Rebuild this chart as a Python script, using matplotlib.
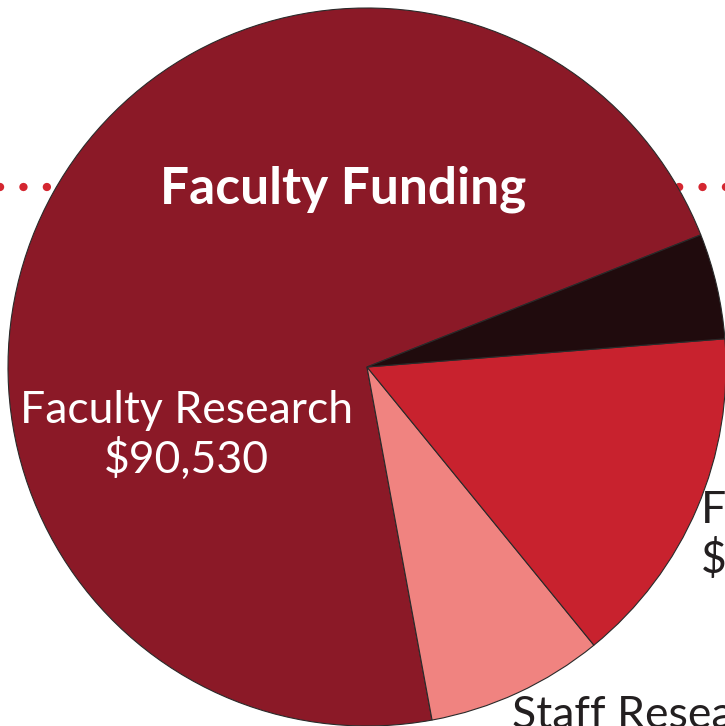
import matplotlib.pyplot as plt

# Slice data
labels = ["Faculty Research", "Staff Research", "Faculty Travel", "Other"]
values = [90530, 10060, 19340, 5980]
colors = ["#8B1927", "#F08380", "#C8222E", "#200B0D"]

W, H = 725, 726
cx, cy, R = 367, 367, 359  # pie centre and radius in pixels

fig = plt.figure(figsize=(W / 100, H / 100), dpi=100)
fig.patch.set_facecolor("white")
ax = fig.add_axes([(cx - R) / W, 1 - (cy + R) / H, 2 * R / W, 2 * R / H])
ax.axis("off")

# dotted rule behind the pie
ax.plot([-cx / R, 1.1], [0.501, 0.501], linestyle=(0, (0.01, 2.8)), linewidth=6,
        dash_capstyle="round", color="#D42630", clip_on=False, zorder=0)

ax.pie(values, colors=colors, startangle=21.6, counterclock=True, radius=1,
       wedgeprops=dict(edgecolor="#2a2a2a", linewidth=0.8))
ax.set_xlim(-1, 1)
ax.set_ylim(-1, 1)

ax.text(-0.067, 0.495, "Faculty Funding", color="white", fontsize=37,
        fontweight="bold", family="Lato", ha="center", va="center")

ax.text(-0.504, -0.19, f"{labels[0]}\n${values[0]:,}", color="white",
        fontsize=32, family="Lato", ha="center", va="center",
        linespacing=1.2)
ax.text(0.93, -0.47, f"{labels[2]}\n${values[2]:,}", color="#231F20",
        fontsize=32, family="Lato", ha="left", va="center",
        linespacing=1.2, clip_on=False)
ax.text(0.405, -0.915, f"{labels[1]}\n${values[1]:,}", color="#231F20",
        fontsize=32, family="Lato", ha="left", va="top",
        linespacing=1.2, clip_on=False)

fig.savefig("out.png", dpi=100)
